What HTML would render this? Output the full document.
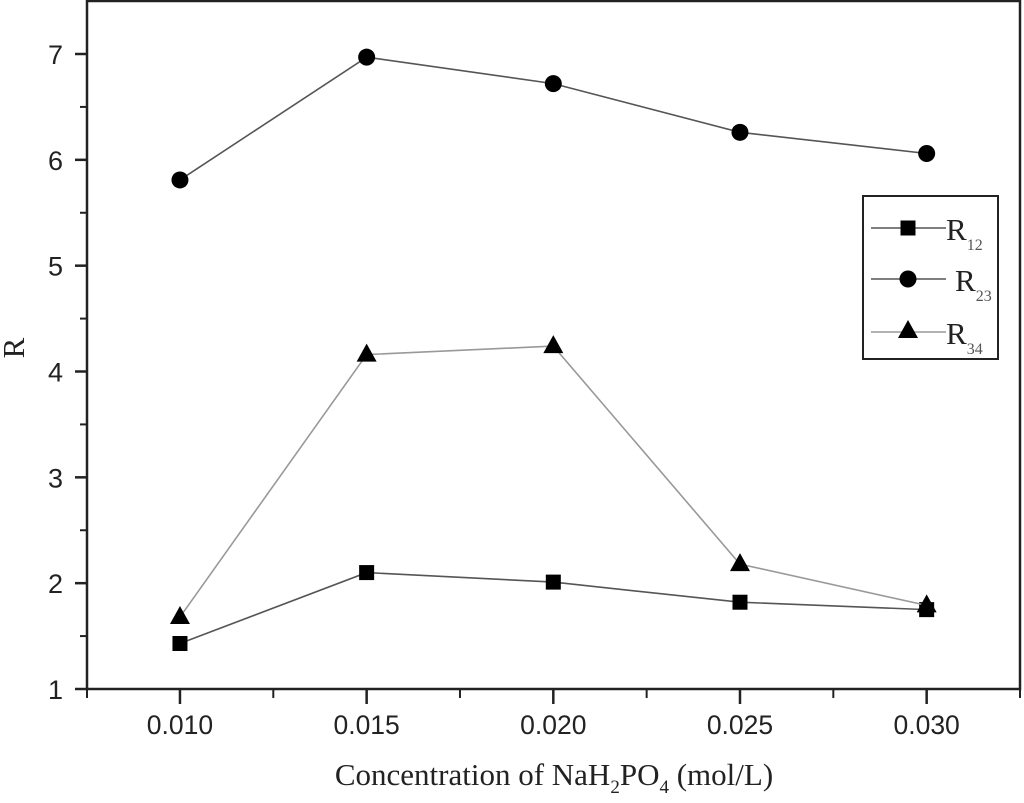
<!DOCTYPE html>
<html><head><meta charset="utf-8"><style>
html,body{margin:0;padding:0;background:#fff;width:1024px;height:803px;overflow:hidden}
svg{display:block}
</style></head><body>
<svg id="chart" width="1024" height="803" xmlns="http://www.w3.org/2000/svg"></svg>
<script>
const xCats = [0.010, 0.015, 0.020, 0.025, 0.030];
const xTickLabels = ["0.010","0.015","0.020","0.025","0.030"];
const yTicks = [1,2,3,4,5,6,7];
const r12 = [1.43, 2.10, 2.01, 1.82, 1.75];
const r23 = [5.81, 6.97, 6.72, 6.26, 6.06];
const r34 = [1.68, 4.16, 4.24, 2.18, 1.79];

const L=87,R=1020,T=1,B=689;
const xMin=0.00751,xMax=0.0325,yMin=1,yMax=7.0;
const y7=54;
function xs(v){return L+(v-xMin)/(xMax-xMin)*(R-L);}
function ys(v){return B-(v-yMin)/(yMax-yMin)*(B-y7);}
const svg=document.getElementById('chart');
const NS='http://www.w3.org/2000/svg';
function mk(tag,attrs,parent){const e=document.createElementNS(NS,tag);for(const k in attrs)e.setAttribute(k,attrs[k]);(parent||svg).appendChild(e);return e;}

const frame=mk('rect',{x:L,y:T,width:R-L,height:B-T,fill:'none',stroke:'#222','stroke-width':2.5});



yTicks.forEach(v=>{
  const y=ys(v);
  const t=mk('line',{x1:L-12,x2:L,y1:y,y2:y,stroke:'#222','stroke-width':2.5});
  
  
  if(v<7){const m=mk('line',{x1:L-7,x2:L,y1:ys(v+0.5),y2:ys(v+0.5),stroke:'#222','stroke-width':2});
  
  }
  const lb=mk('text',{x:L-24,y:y+10,'text-anchor':'end','font-family':'Liberation Sans, sans-serif','font-size':27,fill:'#222'});
  lb.textContent=v;
  
  
});
xCats.forEach((v,i)=>{
  const x=xs(v);
  const t=mk('line',{x1:x,x2:x,y1:B,y2:B+15,stroke:'#222','stroke-width':2.5});
  
  
  const lb=mk('text',{x:x,y:B+45,'text-anchor':'middle','font-family':'Liberation Sans, sans-serif','font-size':26.5,fill:'#222'});
  lb.textContent=xTickLabels[i];
  
  
});
[0.0075,0.0125,0.0175,0.0225,0.0275,0.0325].forEach(v=>{
  const x=Math.min(Math.max(xs(v),L),R);
  const m=mk('line',{x1:x,x2:x,y1:B,y2:B+9,stroke:'#222','stroke-width':2});
  
  
});

const yt=mk('text',{x:0,y:0,transform:'translate(24,'+((T+B)/2+3)+') rotate(-90)','text-anchor':'middle','font-family':'Liberation Serif, serif','font-size':31,fill:'#222'});
yt.textContent='R';


const xt=mk('text',{x:554,y:785,'text-anchor':'middle','font-family':'Liberation Serif, serif','font-size':31,fill:'#222'});
xt.innerHTML='Concentration of NaH<tspan font-size="19" dy="8">2</tspan><tspan dy="-8">PO</tspan><tspan font-size="19" dy="8">4</tspan><tspan dy="-8"> (mol/L)</tspan>';



function marker(type,x,y,g){
  let m;
  if(type==='sq') m=mk('rect',{x:x-7.5,y:y-7.5,width:15,height:15,fill:'#000'},g);
  else if(type==='ci') m=mk('circle',{cx:x,cy:y,r:8.5,fill:'#000'},g);
  else m=mk('polygon',{points:`${x},${y-11} ${x-10},${y+7} ${x+10},${y+7}`,fill:'#000'},g);
  return m;
}
const series=[{name:'r12',d:r12,m:'sq',c:'#555'},{name:'r23',d:r23,m:'ci',c:'#555'},{name:'r34',d:r34,m:'tr',c:'#999'}];
series.forEach(s=>{
  const g=mk('g',{});
  
  
  const pts=s.d.map((v,i)=>xs(xCats[i])+','+ys(v)).join(' ');
  const pl=mk('polyline',{points:pts,fill:'none',stroke:s.c,'stroke-width':1.6},g);
  
  
  s.d.forEach((v,i)=>{
    const m=marker(s.m,xs(xCats[i]),ys(v),g);
    
    
  });
});

const lg=mk('g',{});


mk('rect',{x:863,y:196,width:135,height:163,fill:'#fff',stroke:'#222','stroke-width':2},lg);
const ents=[{m:'sq',c:'#555',y:228,lab:'R',sub:'12',tx:946},{m:'ci',c:'#555',y:279,lab:'R',sub:'23',tx:955},{m:'tr',c:'#999',y:332,lab:'R',sub:'34',tx:946}];
ents.forEach(e=>{
  const g=mk('g',{},lg);
  
  
  mk('line',{x1:871,x2:946,y1:e.y,y2:e.y,stroke:e.c,'stroke-width':1.6},g);
  marker(e.m,908,e.y+(e.m==='tr'?-1:0),g);
  const t=mk('text',{x:e.tx,y:e.y+12,'font-family':'Liberation Serif, serif','font-size':31,fill:'#222'},g);
  t.innerHTML=e.lab+'<tspan font-size="16" dy="10" fill="#555">'+e.sub+'</tspan>';
});
</script>
</body></html>
